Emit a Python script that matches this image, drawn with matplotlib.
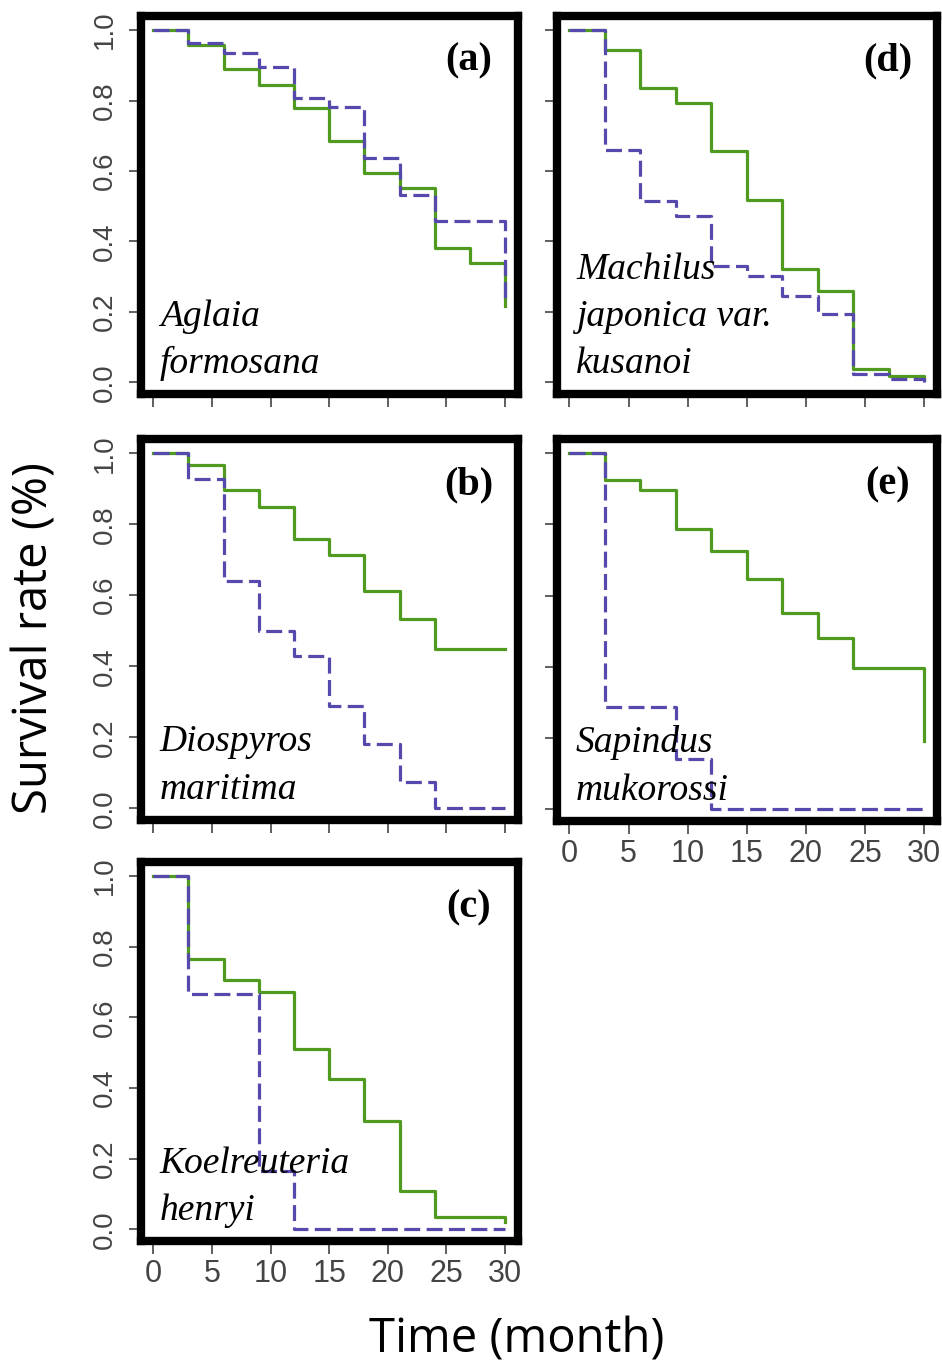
"""
Survival curves for five species (a)-(e), two treatments each.
"""

#----- Imports -----#

import numpy as np
import matplotlib
matplotlib.use("Agg")
import matplotlib.pyplot as plt

#----- Data -----#

months = [0, 3, 6, 9, 12, 15, 18, 21, 24, 27, 30]

panel_ids = ["a", "b", "c", "d", "e"]

species_names = [
    ["Aglaia", "formosana"],
    ["Diospyros", "maritima"],
    ["Koelreuteria", "henryi"],
    ["Machilus", "japonica var.", "kusanoi"],
    ["Sapindus", "mukorossi"],
]

# solid green curve
surv_green_a = [1.0, 0.957, 0.89, 0.845, 0.78, 0.684, 0.594, 0.552, 0.382, 0.34, 0.217]
surv_green_b = [1.0, 0.967, 0.896, 0.849, 0.759, 0.712, 0.613, 0.533, 0.448, 0.448, 0.448]
surv_green_c = [1.0, 0.764, 0.705, 0.672, 0.511, 0.425, 0.308, 0.108, 0.036, 0.036, 0.02]
surv_green_d = [1.0, 0.943, 0.835, 0.792, 0.656, 0.519, 0.321, 0.259, 0.038, 0.019, 0.01]
surv_green_e = [1.0, 0.925, 0.898, 0.788, 0.726, 0.646, 0.552, 0.481, 0.396, 0.396, 0.193]

# dashed blue curve
surv_blue_a = [1.0, 0.962, 0.934, 0.896, 0.807, 0.783, 0.637, 0.533, 0.458, 0.458, 0.23]
surv_blue_b = [1.0, 0.926, 0.64, 0.5, 0.429, 0.288, 0.181, 0.075, 0.0, 0.0, 0.0]
surv_blue_c = [1.0, 0.667, 0.667, 0.165, 0.0, 0.0, 0.0, 0.0, 0.0, 0.0, 0.0]
surv_blue_d = [1.0, 0.66, 0.514, 0.472, 0.33, 0.302, 0.245, 0.193, 0.024, 0.009, 0.0]
surv_blue_e = [1.0, 0.288, 0.288, 0.142, 0.0, 0.0, 0.0, 0.0, 0.0, 0.0, 0.0]

green_curves = [surv_green_a, surv_green_b, surv_green_c, surv_green_d, surv_green_e]
blue_curves = [surv_blue_a, surv_blue_b, surv_blue_c, surv_blue_d, surv_blue_e]

x_ticks = [0, 5, 10, 15, 20, 25, 30]
y_ticks = [0.0, 0.2, 0.4, 0.6, 0.8, 1.0]

#----- Layout -----#

W, H = 942, 1363

# axes boxes in pixels: left, top, right, bottom (spine centres)
boxes = {
    "a": (141, 16, 518, 394),
    "b": (141, 439, 518, 820),
    "c": (141, 862, 518, 1241),
    "d": (557, 16, 937, 394),
    "e": (557, 439, 937, 821),
}

green = "#4f9a1f"
blue = "#5549ad"
tick_col = "#444444"

#----- Plot -----#

fig = plt.figure(figsize=(W / 100, H / 100), dpi=100)

for i, pid in enumerate(panel_ids):
    l, t, r, b = boxes[pid]
    ax = fig.add_axes([l / W, 1 - b / H, (r - l) / W, (b - t) / H])

    ax.step(months, green_curves[i], where="post", color=green, lw=2.3)
    ax.step(months, blue_curves[i], where="post", color=blue, lw=2.3,
            dashes=(5, 2))

    ax.set_xlim(-1.05, 31.1)
    ax.set_ylim(-0.033, 1.04)

    for s in ax.spines.values():
        s.set_linewidth(6)
        s.set_color("black")

    ax.set_xticks(x_ticks)
    ax.set_yticks(y_ticks)
    ax.tick_params(length=9, width=1.2, color=tick_col, labelcolor=tick_col)
    ax.tick_params(axis="x", pad=4, labelsize=22)
    ax.tick_params(axis="y", pad=8, labelsize=20)

    if pid in ("a", "b", "c"):
        ax.set_yticklabels([f"{v:.1f}" for v in y_ticks])
        for lab in ax.get_yticklabels():
            lab.set_rotation(90)
            lab.set_va("center")
            lab.set_fontfamily("Liberation Sans")
    else:
        ax.set_yticklabels([])

    if pid in ("c", "e"):
        ax.set_xticklabels([str(v) for v in x_ticks])
        for lab in ax.get_xticklabels():
            lab.set_fontfamily("Liberation Sans")
    else:
        ax.set_xticklabels([])

    ax.text(0.87, 0.88, f"({pid})", transform=ax.transAxes,
            ha="center", va="center", fontsize=29, fontweight="bold",
            family="Liberation Serif")

    lines = species_names[i]
    n = len(lines)
    for k, line in enumerate(lines):
        ax.text(0.05, 0.055 + (n - 1 - k) * 0.125, line,
                transform=ax.transAxes, ha="left", va="baseline",
                fontsize=27, fontstyle="italic", family="Liberation Serif")

fig.text(35 / W, 1 - 638 / H, "Survival rate (%)", rotation=90,
         ha="center", va="center", fontsize=34, family="Open Sans")
fig.text(517 / W, 1 - 1340 / H, "Time (month)",
         ha="center", va="center", fontsize=34, family="Open Sans")

fig.savefig("out.png", dpi=100)
